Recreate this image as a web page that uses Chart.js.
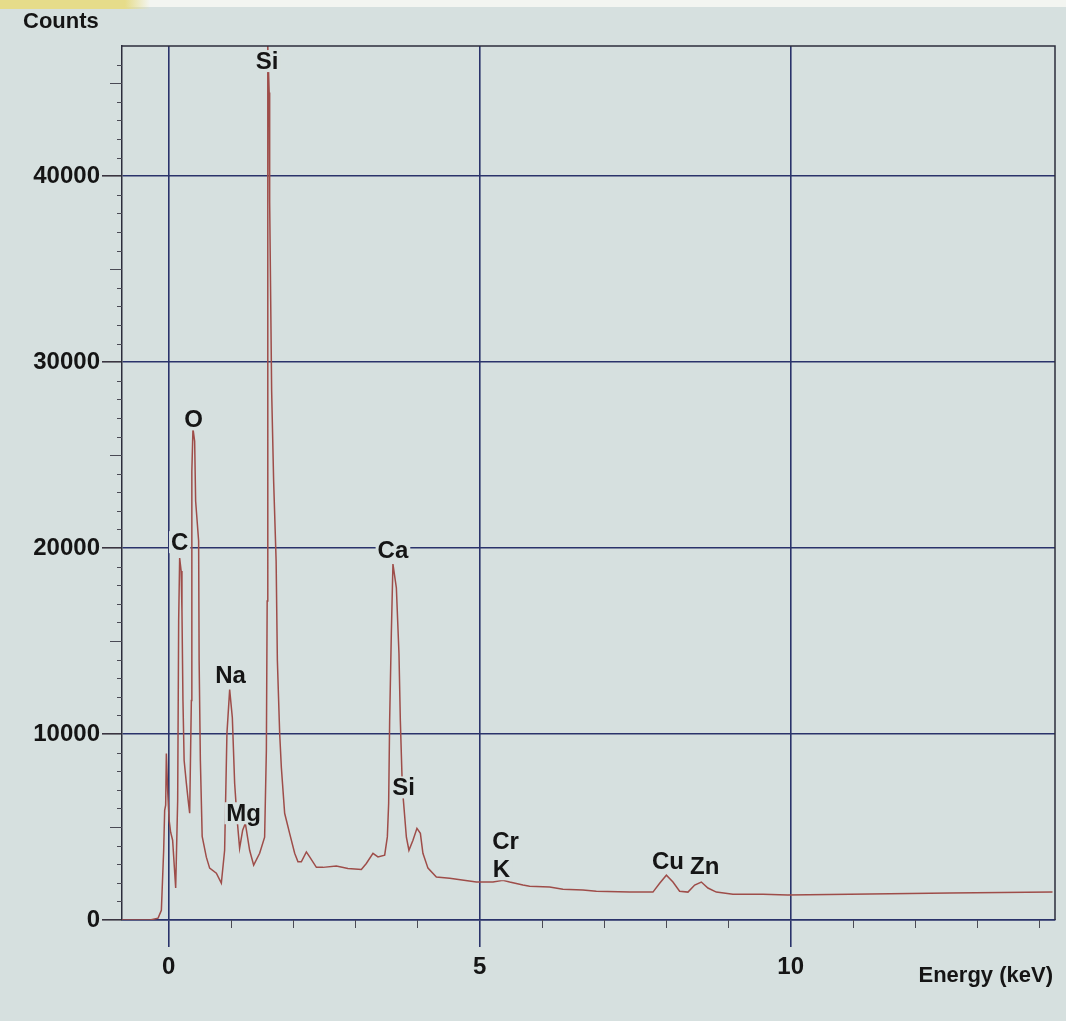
<!DOCTYPE html>
<html>
<head>
<meta charset="utf-8">
<script src="https://cdn.jsdelivr.net/npm/chart.js@4.4.1/dist/chart.umd.min.js"></script>
<style>
  html, body { margin: 0; padding: 0; }
  body {
    width: 1066px; height: 1021px; overflow: hidden;
    background:
      linear-gradient(to right, #e6dc8a 0, #e6dc8a 125px, rgba(0,0,0,0) 150px) 0 0 / 100% 9px no-repeat,
      linear-gradient(to bottom, #f3f5f1 0, #f3f5f1 7px, #d6e0df 7px);
  }
  canvas { display: block; }
</style>
</head>
<body>
<canvas id="spectrum" width="1066" height="1021"></canvas>
<script>
// EDS spectrum (energy in keV, counts)
const energy = [
  -0.75, -0.30, -0.17, -0.117, -0.080, -0.064, -0.048, -0.037, -0.016, 0.008, 0.032, 0.064, 0.113,
  0.145, 0.161, 0.177, 0.201, 0.214, 0.230, 0.249, 0.285, 0.314, 0.338,
  0.365, 0.373, 0.391, 0.418, 0.434, 0.482, 0.490, 0.510, 0.539, 0.606, 0.659, 0.767, 0.847,
  0.900, 0.937, 0.981, 1.024, 1.061, 1.098, 1.141, 1.190, 1.233, 1.302, 1.367, 1.463, 1.543,
  1.571, 1.584, 1.592, 1.596, 1.616, 1.624, 1.656, 1.688, 1.728, 1.748, 1.785, 1.812, 1.865,
  1.945, 2.026, 2.079, 2.133, 2.214, 2.267, 2.375, 2.481, 2.696, 2.883, 3.098, 3.178, 3.285,
  3.365, 3.473, 3.516, 3.537, 3.553, 3.580, 3.606, 3.661, 3.703, 3.725, 3.757, 3.778, 3.822,
  3.863, 3.928, 3.992, 4.047, 4.088, 4.169, 4.304, 4.518, 4.947, 5.214, 5.375, 5.482, 5.696,
  5.804, 6.125, 6.339, 6.661, 6.876, 7.412, 7.786, 7.894, 8.002, 8.108, 8.215, 8.349, 8.457,
  8.564, 8.670, 8.805, 9.072, 9.555, 9.952, 10.95, 12.56, 14.21
];
const counts = [
  0, 0, 100, 520, 3750, 5900, 6170, 8950, 6970, 5360, 4720, 4290, 1720,
  6430, 16090, 19460, 18770, 16620, 11800, 8580, 7350, 6430, 5740,
  11800, 24130, 26430, 25740, 22520, 20380, 13940, 8580, 4500, 3380, 2790, 2520, 1980,
  3750, 10030, 12390, 10880, 7350, 5520, 3860, 4830, 5200, 3750, 2950, 3590, 4450,
  9120, 17160, 33240, 47000, 44500, 38610, 28420, 23590, 19300, 13940, 10030, 8200, 5740,
  4660, 3590, 3130, 3130, 3660, 3390, 2830, 2830, 2900, 2770, 2720, 3040, 3580,
  3390, 3490, 4470, 6270, 10720, 15390, 19140, 17860, 14320, 10720, 7130, 6270, 4450,
  3750, 4290, 4930, 4660, 3590, 2790, 2310, 2250, 2040, 2040, 2140, 2040, 1880,
  1820, 1770, 1660, 1610, 1550, 1500, 1500, 1980, 2410, 2040, 1550, 1500, 1880,
  2040, 1720, 1500, 1390, 1390, 1340, 1390, 1450, 1500
];

const xTicks = [0, 5, 10];
const yTicks = [0, 10000, 20000, 30000, 40000];

// element labels, anchored in data units (keV, counts)
const peakNames = ['Si', 'O', 'C', 'Na', 'Mg', 'Ca', 'Si', 'Cr', 'K', 'Cu', 'Zn'];
const peakLabelE = [1.584, 0.402, 0.177, 0.994, 1.206, 3.606, 3.778, 5.415, 5.349, 8.027, 8.617];
const peakLabelC = [46190, 26920, 20320, 13140, 5740, 19890, 7130, 4240, 2730, 3160, 2860];

const paper = '#d6e0df';
const gridBlue = '#2a336b';
const ink = '#151515';
const FONT = "'Liberation Sans', Arial, sans-serif";

const decorations = {
  id: 'decorations',
  afterDraw(chart) {
    const { ctx, chartArea: a, scales: { x, y } } = chart;
    ctx.save();
    // frame top / right
    ctx.strokeStyle = '#2c2c3c';
    ctx.lineWidth = 1.5;
    ctx.beginPath();
    ctx.moveTo(a.left, a.top);
    ctx.lineTo(a.right, a.top);
    ctx.lineTo(a.right, a.bottom);
    ctx.stroke();

    // minor ticks
    ctx.strokeStyle = '#4a4a55';
    ctx.lineWidth = 1;
    ctx.beginPath();
    for (let v = 1000; v <= 46000; v += 1000) {
      if (v % 10000 === 0) continue;
      const py = Math.round(y.getPixelForValue(v)) + 0.5;
      const len = v % 5000 === 0 ? 12 : 5;
      ctx.moveTo(a.left - len, py);
      ctx.lineTo(a.left, py);
    }
    for (let e = 1; e <= 14; e++) {
      if (e % 5 === 0) continue;
      const px = Math.round(x.getPixelForValue(e)) + 0.5;
      ctx.moveTo(px, a.bottom);
      ctx.lineTo(px, a.bottom + 8);
    }
    ctx.stroke();

    // peak labels
    ctx.font = `bold 24px ${FONT}`;
    ctx.textAlign = 'center';
    ctx.textBaseline = 'middle';
    peakNames.forEach((name, i) => {
      const px = x.getPixelForValue(peakLabelE[i]);
      const py = y.getPixelForValue(peakLabelC[i]);
      const w = ctx.measureText(name).width;
      ctx.fillStyle = paper;
      ctx.fillRect(px - w / 2 - 2, py - 11, w + 4, 22);
      ctx.fillStyle = ink;
      ctx.fillText(name, px, py + 1);
    });

    // axis titles
    ctx.font = `bold 22px ${FONT}`;
    ctx.textBaseline = 'alphabetic';
    ctx.textAlign = 'left';
    ctx.fillText('Counts', 23, 28);
    ctx.textAlign = 'right';
    ctx.fillText('Energy (keV)', 1053, 982);
    ctx.restore();
  }
};

new Chart(document.getElementById('spectrum'), {
  type: 'line',
  data: {
    datasets: [{
      data: energy.map((e, i) => ({ x: e, y: counts[i] })),
      borderColor: '#9e4d49',
      borderWidth: 1.5,
      pointRadius: 0,
      tension: 0,
      fill: false,
    }],
  },
  options: {
    responsive: false,
    animation: false,
    layout: { padding: { top: 46, right: 11, left: 0, bottom: 0 } },
    plugins: { legend: { display: false }, tooltip: { enabled: false } },
    scales: {
      x: {
        type: 'linear', min: -0.75, max: 14.25,
        afterBuildTicks: (s) => { s.ticks = xTicks.map((v) => ({ value: v })); },
        afterFit: (s) => { s.height = 101; },
        grid: { color: gridBlue, lineWidth: 1.6, tickLength: 27, tickColor: gridBlue },
        border: { color: gridBlue, width: 1.6 },
        ticks: { font: { family: FONT, size: 24, weight: 'bold' }, color: ink, padding: 6, maxRotation: 0, callback: (v) => String(v) },
      },
      y: {
        type: 'linear', min: 0, max: 47000,
        afterBuildTicks: (s) => { s.ticks = yTicks.map((v) => ({ value: v })); },
        afterFit: (s) => { s.width = 122; },
        grid: { color: gridBlue, lineWidth: 1.6, tickLength: 20, tickColor: '#3a3440' },
        border: { color: '#2c2c3c', width: 1.5 },
        ticks: { font: { family: FONT, size: 24, weight: 'bold' }, color: ink, padding: 2, callback: (v) => String(v) },
      },
    },
  },
  plugins: [decorations],
});
</script>
</body>
</html>
